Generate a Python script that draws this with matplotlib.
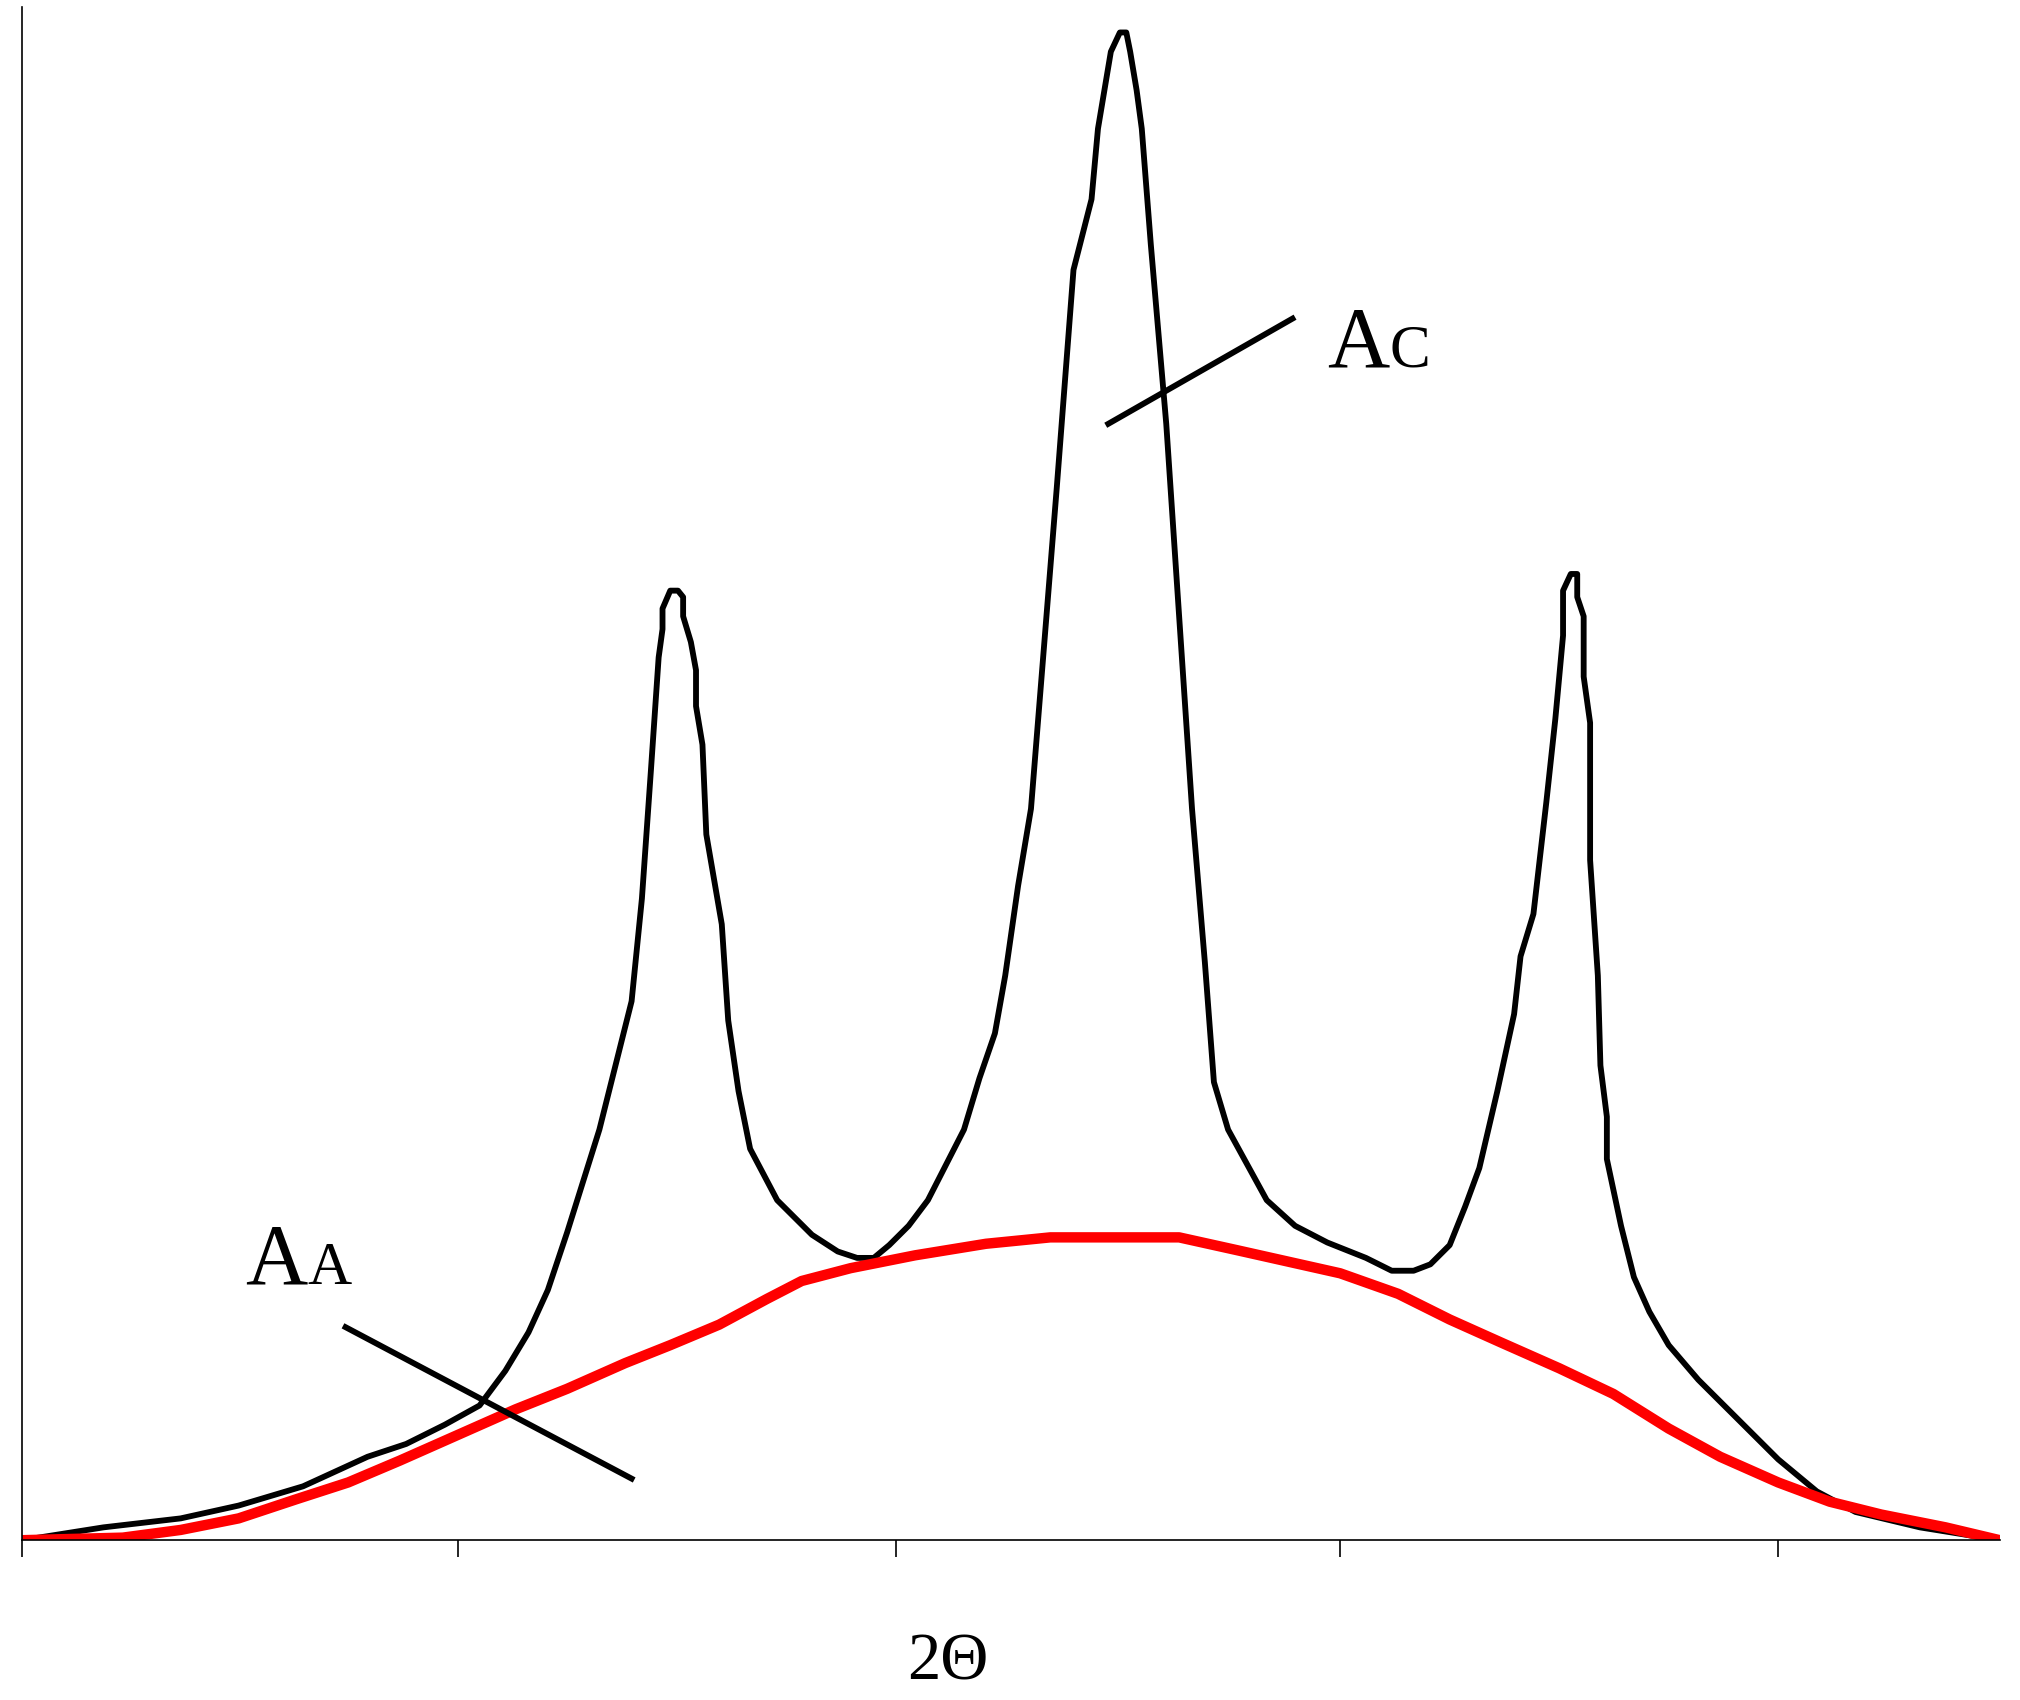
import matplotlib
matplotlib.use('Agg')
import matplotlib.pyplot as plt

# curves (x in picture units, y = height above baseline)
black_x = [17, 80, 140, 185, 235, 285, 315, 345, 372, 392, 410, 425, 440, 465, 490, 498, 505, 511, 514, 514, 520, 526, 530, 530, 536, 540, 540, 545, 548, 560, 565, 573, 582, 603, 630, 650, 665, 678, 690, 705, 720, 748, 760, 772, 780, 790, 800, 808, 820, 833, 847, 852, 862, 869, 874, 877, 882, 886, 893, 905, 915, 925, 935, 942, 953, 983, 1005, 1030, 1060, 1080, 1097, 1110, 1125, 1137, 1148, 1162, 1175, 1180, 1190, 1200, 1207, 1213, 1213, 1219, 1224, 1224, 1229, 1229, 1234, 1234, 1240, 1242, 1247, 1247, 1258, 1268, 1280, 1295, 1318, 1345, 1380, 1410, 1440, 1490, 1552]
black_py = [1200, 1190, 1183, 1173, 1158, 1135, 1125, 1110, 1095, 1068, 1038, 1005, 960, 880, 780, 700, 600, 512, 490, 474, 460, 460, 465, 480, 500, 522, 550, 580, 650, 720, 795, 850, 895, 935, 962, 975, 980, 980, 970, 955, 935, 880, 840, 805, 760, 690, 630, 530, 380, 210, 155, 100, 40, 25, 25, 40, 70, 100, 190, 330, 480, 630, 750, 843, 880, 935, 955, 968, 980, 990, 990, 985, 970, 940, 910, 850, 790, 745, 712, 625, 560, 495, 460, 447, 447, 465, 480, 527, 563, 670, 760, 830, 870, 903, 955, 995, 1022, 1048, 1075, 1102, 1137, 1162, 1178, 1190, 1200]
red_x = [17, 95, 140, 185, 230, 270, 310, 355, 400, 440, 485, 520, 558, 595, 622, 660, 710, 765, 815, 915, 960, 1000, 1040, 1085, 1125, 1165, 1210, 1252, 1295, 1335, 1380, 1420, 1460, 1510, 1552]
red_py = [1200, 1198, 1192, 1183, 1168, 1155, 1138, 1118, 1098, 1082, 1062, 1048, 1032, 1012, 998, 988, 978, 969, 964, 964, 974, 983, 992, 1008, 1028, 1046, 1066, 1086, 1113, 1135, 1155, 1170, 1180, 1190, 1200]
tick_x = [17, 355, 695, 1040, 1380]

base = 1200
black_y = [base - v for v in black_py]
red_y = [base - v for v in red_py]

plt.rcParams['font.family'] = ['Liberation Serif', 'DejaVu Serif']
fig = plt.figure(figsize=(20.2, 17), dpi=100)
ax = fig.add_axes([0.011, 0.094, 0.979, 0.902])
ax.plot(black_x, black_y, color='black', lw=4.2)
ax.plot(red_x, red_y, color='red', lw=7.5)

# leader lines
ax.plot([860, 1003], [base - 330, base - 248], color='black', lw=4.2)
ax.plot([268, 490], [base - 1034, base - 1152], color='black', lw=4.2)
ax.text(1030, base - 285, 'A', fontsize=62, va='baseline')
ax.text(1078, base - 285, 'C', fontsize=44, va='baseline')
ax.text(190, base - 1000, 'A', fontsize=62, va='baseline')
ax.text(238, base - 1000, 'A', fontsize=44, va='baseline')

ax.set_xlim(17, 1552)
ax.set_ylim(0, 1195)
ax.spines['top'].set_visible(False)
ax.spines['right'].set_visible(False)
ax.spines['left'].set_linewidth(1.2)
ax.spines['bottom'].set_linewidth(1.2)
ax.set_xticks(tick_x)
ax.set_xticklabels([])
ax.set_yticks([])
ax.tick_params(axis='x', direction='out', length=12, width=1.2)
ax.set_xlabel('2Θ', fontsize=48)
ax.xaxis.set_label_coords(0.468, -0.06)

fig.savefig('out.png', dpi=100)
